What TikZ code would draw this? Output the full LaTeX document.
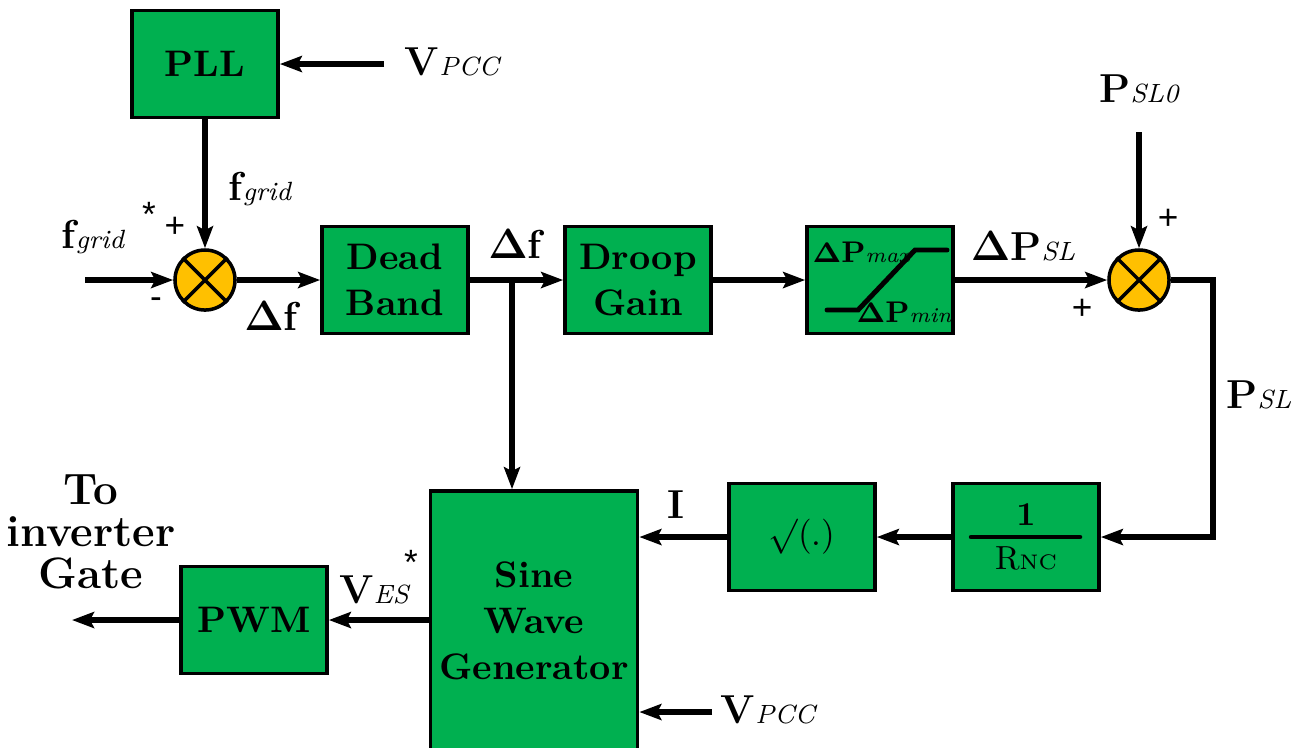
\documentclass[tikz,border=0pt]{standalone}
\usepackage[no-math]{fontspec}
\newfontfamily\signfont{Liberation Sans}
\usetikzlibrary{arrows.meta}
\definecolor{blockgreen}{RGB}{0,176,80}
\definecolor{sumgold}{RGB}{255,192,0}
\newcommand{\sig}[2]{{\bfseries\fontsize{11.5}{11.5}\selectfont #1}{\itshape\fontsize{7.5}{7.5}\selectfont #2}}
\newcommand{\ssig}[2]{{\bfseries\fontsize{8.5}{8.5}\selectfont #1}{\itshape\fontsize{6}{6}\selectfont #2}}
\newcommand{\dlt}{$\mathbf{\Delta}$}
\tikzset{
    base/.style={draw, rectangle, line width=1pt, fill=blockgreen, minimum width=1.46cm, minimum height=1.07cm, align=center, inner sep=0pt, font=\bfseries\fontsize{10.5}{13}\selectfont},
    sum/.style={draw, circle, line width=1pt, fill=sumgold, minimum size=0.6cm, inner sep=0pt},
    cross/.style={line width=1pt},
    arrow/.style={line width=1.6pt, -{Stealth[length=2.2mm, width=1.6mm, inset=0.4mm]}},
    wire/.style={line width=1.6pt},
    curve/.style={line width=1.4pt, line cap=round},
    lbl/.style={inner sep=0pt, anchor=base},
    signlbl/.style={inner sep=0pt, font=\signfont\fontsize{10}{10}\selectfont}
}

\begin{document}
\begin{tikzpicture}[x=0.01cm, y=-0.01cm]
\useasboundingbox (0,0) rectangle (1298,747);
\node[base] (pll) at (205,64) {PLL};
\node[sum] (sum1) at (205,280) {};
\node[base] (db) at (395,280) {Dead\\Band};
\node[base] (droop) at (638,280) {Droop\\Gain};
\node[base] (sat) at (880,280) {};
\node[sum] (sum2) at (1139,280) {};
\node[base, font=\fontsize{9.5}{12.5}\selectfont] (invr) at (1026,537) {\textbf{1}\\R{\fontsize{6}{6}\selectfont NC}};
\node[base, font=\fontsize{10}{12}\selectfont] (sqrtb) at (802,537) {$\surd$(.)};
\node[base, minimum width=2.07cm, minimum height=2.6cm] (sine) at (534,621) {Sine\\Wave\\Generator};
\node[base] (pwm) at (254,620) {PWM};
\coordinate (vin) at (384,64);
\coordinate (fin) at (85,280);
\coordinate (br) at (512,280);
\coordinate (pin) at (1139,132);
\coordinate (cnr) at (1213,280);
\coordinate (vin2) at (712,712);
\coordinate (gate) at (72,620);
\draw[arrow] (vin) -- (pll);
\draw[arrow] (pll) -- (sum1);
\draw[arrow] (fin) -- (sum1);
\draw[arrow] (sum1) -- (db);
\draw[arrow] (db) -- (droop);
\draw[arrow] (br) -- (br |- sine.north);
\draw[arrow] (droop) -- (sat);
\draw[arrow] (sat) -- (sum2);
\draw[arrow] (pin) -- (sum2);
\draw[arrow] (sum2) -- (cnr) |- (invr);
\draw[arrow] (invr) -- (sqrtb);
\draw[arrow] (sqrtb) -- (sqrtb -| sine.east);
\draw[arrow] (vin2) -- (vin2 -| sine.east);
\draw[arrow] (sine.west |- pwm) -- (pwm);
\draw[arrow] (pwm) -- (gate);
\foreach \s in {sum1,sum2}
    \draw[cross] (\s.north east) -- (\s.south west) (\s.north west) -- (\s.south east);
\draw[curve] ([shift={(-53,30)}]sat.center) -- ([shift={(-22,30)}]sat.center) -- ([shift={(35,-30)}]sat.center) -- ([shift={(67,-30)}]sat.center);
\draw[curve] ([xshift=0.2cm]invr.west) -- ([xshift=-0.21cm]invr.east);
\node[lbl, anchor=base west] (pmax) at (812,262) {\ssig{\dlt P}{max}};
\node[lbl, anchor=base west] (pmin) at (856,322) {\ssig{\dlt P}{min}};
\node[lbl] (vtop) at (452,75) {\sig{V}{PCC}};
\node[lbl] (fgref) at (93,248) {\sig{f}{grid}};
\node[signlbl] (star1) at (149,214) {*};
\node[signlbl] (plus1) at (175,227) {+};
\node[signlbl] (minus1) at (156,303) {-};
\node[lbl] (fgpll) at (260,200) {\sig{f}{grid}};
\node[lbl] (df1) at (271,330) {\sig{\dlt f}{}};
\node[lbl] (df2) at (515,258) {\sig{\dlt f}{}};
\node[lbl] (dpsl) at (1023,260) {\sig{\dlt P}{SL}};
\node[lbl] (psl0) at (1139,102) {\sig{P}{SL0}};
\node[signlbl] (plus2) at (1168,219) {+};
\node[signlbl] (plus3) at (1082,309) {+};
\node[lbl] (psl) at (1259,408) {\sig{P}{SL}};
\node[lbl] (itxt) at (676,518) {\sig{I}{}};
\node[lbl] (ves) at (374,603) {\sig{V}{ES}};
\node[signlbl] (star2) at (411,562) {*};
\node[lbl] (vbot) at (768,723) {\sig{V}{PCC}};
\node[align=center, inner sep=0pt, font=\bfseries\fontsize{12.5}{12}\selectfont] (gatetxt) at (91,532) {To\\inverter\\Gate};
\end{tikzpicture}
\end{document}
